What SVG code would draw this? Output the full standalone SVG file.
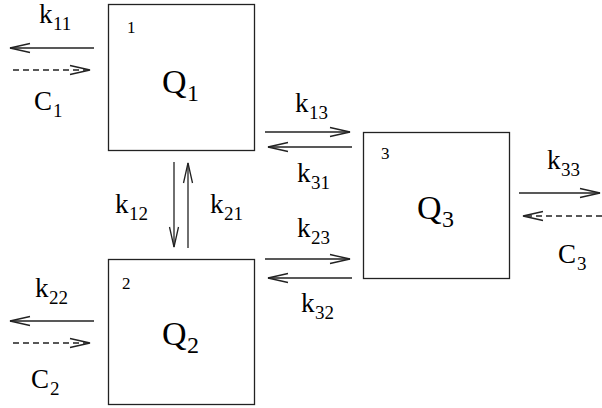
<svg xmlns="http://www.w3.org/2000/svg" width="602" height="408" viewBox="0 0 602 408">
<style>
.box{fill:#fff;stroke:#222;stroke-width:1.3}
.ln{stroke:#222;stroke-width:1.3;fill:none}
.dash{stroke:#222;stroke-width:1.3;fill:none;stroke-dasharray:6 4}
text{font-family:"Times New Roman","Liberation Serif",serif;fill:#000}
.k{font-size:27px}
.s{font-size:19px}
.q{font-size:34px}
.qs{font-size:24px}
.n{font-size:17px}
</style>
<defs>
<marker id="ah" markerUnits="userSpaceOnUse" orient="auto" refX="0" refY="0" markerWidth="30" markerHeight="30" viewBox="-25 -10 30 20" overflow="visible">
<path d="M-20,-4.5 L0,0 L-20,4.5" fill="none" stroke="#222" stroke-width="1.3"/>
</marker>
</defs>
<g id="node1">
<rect class="box" x="108.5" y="4.5" width="146" height="146"/>
<text class="n" x="127" y="33">1</text>
<text class="q" x="162" y="93">Q</text><text class="qs" x="187" y="101">1</text>
</g>
<g id="node2">
<rect class="box" x="108.5" y="259.5" width="146" height="145"/>
<text class="n" x="122" y="289">2</text>
<text class="q" x="162" y="345">Q</text><text class="qs" x="187" y="353">2</text>
</g>
<g id="node3">
<rect class="box" x="363.5" y="132.5" width="146" height="146"/>
<text class="n" x="381" y="159">3</text>
<text class="q" x="417" y="219">Q</text><text class="qs" x="442" y="227">3</text>
</g>
<g id="connectors">
<line class="ln" x1="94" y1="48" x2="10" y2="48" marker-end="url(#ah)"/>
<line class="dash" x1="13" y1="70" x2="90" y2="70" marker-end="url(#ah)"/>
<line class="ln" x1="94" y1="321" x2="10" y2="321" marker-end="url(#ah)"/>
<line class="dash" x1="13" y1="343" x2="90" y2="343" marker-end="url(#ah)"/>
<line class="ln" x1="174" y1="162" x2="174" y2="247" marker-end="url(#ah)"/>
<line class="ln" x1="188" y1="248" x2="188" y2="163" marker-end="url(#ah)"/>
<line class="ln" x1="265" y1="132" x2="350" y2="132" marker-end="url(#ah)"/>
<line class="ln" x1="352" y1="147" x2="268" y2="147" marker-end="url(#ah)"/>
<line class="ln" x1="265" y1="259" x2="350" y2="259" marker-end="url(#ah)"/>
<line class="ln" x1="352" y1="278" x2="268" y2="278" marker-end="url(#ah)"/>
<line class="ln" x1="519" y1="193" x2="600" y2="193" marker-end="url(#ah)"/>
<line class="dash" x1="602" y1="216" x2="523" y2="216" marker-end="url(#ah)"/>
<text class="k" x="39" y="23">k</text><text class="s" x="53" y="30">11</text>
<text class="k" x="34" y="110">C</text><text class="s" x="53" y="117">1</text>
<text class="k" x="35" y="297">k</text><text class="s" x="49" y="304">22</text>
<text class="k" x="31" y="388">C</text><text class="s" x="50" y="395">2</text>
<text class="k" x="115" y="213">k</text><text class="s" x="129" y="220">12</text>
<text class="k" x="210" y="213">k</text><text class="s" x="224" y="220">21</text>
<text class="k" x="295" y="112">k</text><text class="s" x="309" y="119">13</text>
<text class="k" x="297" y="182">k</text><text class="s" x="311" y="189">31</text>
<text class="k" x="297" y="237">k</text><text class="s" x="311" y="244">23</text>
<text class="k" x="301" y="312">k</text><text class="s" x="315" y="319">32</text>
<text class="k" x="547" y="169">k</text><text class="s" x="561" y="176">33</text>
<text class="k" x="558" y="263">C</text><text class="s" x="577" y="270">3</text>
</g>
</svg>
